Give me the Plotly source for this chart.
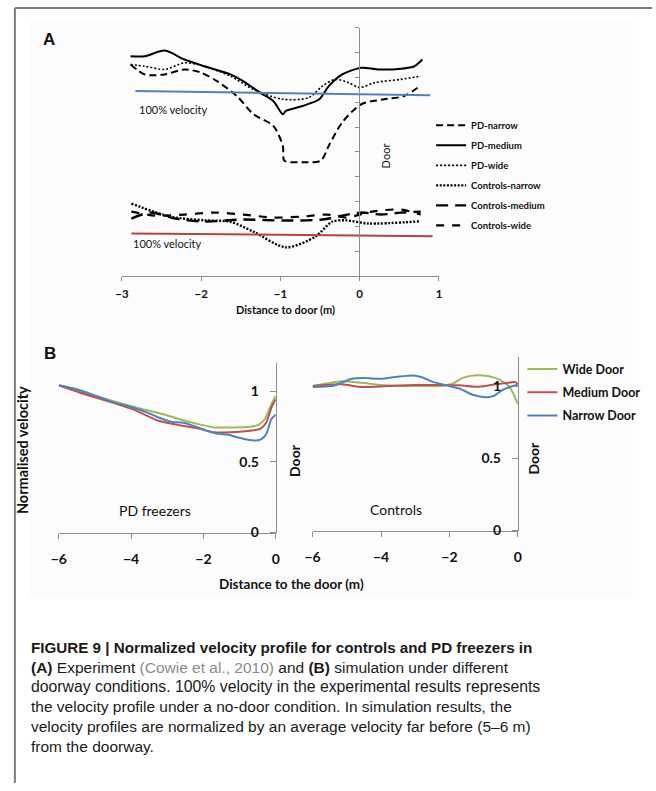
import plotly.graph_objects as go

W, H = 656, 791

# ---------------- Panel A data (experiment) ----------------
pd_narrow_x = [-2.89, -2.71, -2.46, -2.21, -2.00, -1.80, -1.55, -1.34, -1.09, -0.97, -0.95, -0.72, -0.49, -0.39, -0.22, 0.02, 0.31, 0.56, 0.77]
pd_narrow_y = [8.52, 8.12, 8.12, 8.32, 8.19, 7.85, 7.25, 6.52, 6.05, 5.25, 4.65, 4.59, 4.65, 5.25, 6.19, 6.92, 7.12, 7.25, 7.68]

pd_medium_x = [-2.89, -2.71, -2.46, -2.21, -1.96, -1.63, -1.47, -1.26, -1.09, -0.97, -0.93, -0.72, -0.51, -0.39, -0.22, 0.02, 0.23, 0.52, 0.69, 0.79]
pd_medium_y = [8.85, 8.85, 9.08, 8.72, 8.45, 8.12, 7.85, 7.39, 7.05, 6.52, 6.65, 6.85, 7.12, 7.65, 8.12, 8.39, 8.32, 8.35, 8.45, 8.72]

pd_wide_x = [-2.89, -2.71, -2.46, -2.21, -1.96, -1.63, -1.34, -0.97, -0.64, -0.47, -0.31, -0.14, 0.00, 0.19, 0.52, 0.77]
pd_wide_y = [8.52, 8.45, 8.32, 8.59, 8.45, 8.05, 7.52, 7.12, 7.19, 7.65, 7.92, 7.79, 7.59, 7.79, 7.92, 8.05]

ctrl_narrow_x = [-2.88, -2.38, -1.96, -1.63, -1.34, -0.93, -0.56, -0.35, -0.18, 0.11, 0.77]
ctrl_narrow_y = [2.92, 2.39, 2.25, 2.19, 1.79, 1.16, 1.59, 2.19, 2.25, 2.12, 2.21]

ctrl_medium_x = [-2.88, -2.64, -2.33, -1.96, -1.47, -0.97, -0.47, -0.22, 0.02, 0.27, 0.52, 0.77]
ctrl_medium_y = [2.32, 2.56, 2.32, 2.20, 2.28, 2.24, 2.28, 2.44, 2.56, 2.48, 2.56, 2.60]

ctrl_wide_x = [-2.88, -2.58, -2.21, -1.84, -1.47, -1.09, -0.72, -0.41, -0.16, 0.15, 0.52, 0.77]
ctrl_wide_y = [2.60, 2.44, 2.48, 2.56, 2.48, 2.36, 2.40, 2.48, 2.36, 2.60, 2.68, 2.48]

ref_pd_x = [-2.83, 0.89]
ref_pd_y = [7.45, 7.28]
ref_ctrl_x = [-2.88, 0.92]
ref_ctrl_y = [1.72, 1.61]

# ---------------- Panel B data (simulation) ----------------
pdf_wide_x = [-6.0, -5.41, -4.51, -3.96, -3.60, -3.24, -2.88, -2.52, -2.16, -1.70, -1.25, -0.71, -0.48, -0.30, -0.12, 0.0]
pdf_wide_y = [1.04, 0.993, 0.930, 0.890, 0.867, 0.844, 0.818, 0.790, 0.767, 0.743, 0.743, 0.748, 0.760, 0.802, 0.907, 0.965]

pdf_medium_x = [-6.0, -5.41, -4.51, -3.96, -3.24, -2.70, -2.16, -1.70, -1.25, -0.71, -0.43, -0.26, -0.12, 0.0]
pdf_medium_y = [1.04, 0.988, 0.918, 0.872, 0.790, 0.760, 0.736, 0.708, 0.708, 0.720, 0.732, 0.778, 0.883, 0.942]

pdf_narrow_x = [-6.0, -5.50, -4.96, -4.51, -3.96, -3.60, -3.24, -2.88, -2.52, -2.16, -1.70, -1.34, -1.07, -0.80, -0.53, -0.39, -0.26, -0.12, 0.0]
pdf_narrow_y = [1.04, 1.012, 0.965, 0.923, 0.883, 0.853, 0.813, 0.783, 0.774, 0.743, 0.704, 0.692, 0.673, 0.657, 0.650, 0.662, 0.697, 0.802, 0.832]

ctl_wide_x = [-6.0, -5.15, -4.57, -4.00, -3.33, -2.66, -2.28, -1.89, -1.61, -1.22, -0.84, -0.55, -0.27, -0.12, 0.0]
ctl_wide_y = [1.0, 1.034, 1.023, 1.007, 1.0, 1.0, 1.0, 1.018, 1.057, 1.075, 1.068, 1.046, 1.0, 0.943, 0.875]

ctl_medium_x = [-6.0, -5.15, -4.57, -3.81, -3.04, -2.28, -1.70, -1.13, -0.65, -0.27, -0.07, 0.0]
ctl_medium_y = [1.0, 1.012, 0.993, 1.0, 1.007, 1.007, 1.005, 0.995, 1.012, 1.023, 1.027, 1.012]

ctl_narrow_x = [-6.0, -5.43, -5.15, -4.86, -4.48, -4.00, -3.52, -3.04, -2.76, -2.47, -2.08, -1.70, -1.32, -0.94, -0.70, -0.46, -0.22, 0.0]
ctl_narrow_y = [0.993, 1.0, 1.023, 1.05, 1.055, 1.05, 1.064, 1.073, 1.057, 1.027, 1.005, 0.982, 0.940, 0.923, 0.932, 0.971, 0.995, 1.009]

legend_a_names = ["PD-narrow", "PD-medium", "PD-wide", "Controls-narrow", "Controls-medium", "Controls-wide"]
legend_b_names = ["Wide Door", "Medium Door", "Narrow Door"]
ax_a_ticks = [-3, -2, -1, 0, 1]
ax_b_ticks = [-6, -4, -2, 0]
ax_b_yticks = [0, 0.5, 1]

GREEN, RED, BLUE = "#9BBB59", "#C0504D", "#4F81BD"
FONT = "Lato, 'Open Sans', sans-serif"
CAP_FONT = "'Liberation Sans', Arial, sans-serif"


def X(px):
    return px / W


def Y(py):
    return 1 - py / H


fig = go.Figure()

# Panel A traces
a_styles = [
    (pd_narrow_x, pd_narrow_y, 2, "7px,4px"),
    (pd_medium_x, pd_medium_y, 2, "solid"),
    (pd_wide_x, pd_wide_y, 1.6, "2px,2px"),
    (ctrl_narrow_x, ctrl_narrow_y, 2.4, "2px,1.6px"),
    (ctrl_medium_x, ctrl_medium_y, 2.4, "12px,7px"),
    (ctrl_wide_x, ctrl_wide_y, 2.2, "8px,8px"),
]
for name, (xs, ys, w, d) in zip(legend_a_names, a_styles):
    fig.add_trace(go.Scatter(x=xs, y=ys, name=name, mode="lines", line=dict(color="black", width=w, dash=d, shape="spline", smoothing=0.8),
                             xaxis="x", yaxis="y", legend="legend", legendgroup=name))

fig.add_trace(go.Scatter(x=ref_pd_x, y=ref_pd_y, mode="lines", line=dict(color=BLUE, width=2), showlegend=False, xaxis="x", yaxis="y"))
fig.add_trace(go.Scatter(x=ref_ctrl_x, y=ref_ctrl_y, mode="lines", line=dict(color="#B8423F", width=2), showlegend=False, xaxis="x", yaxis="y"))

# Panel B traces
b_left = [(pdf_wide_x, pdf_wide_y, GREEN), (pdf_medium_x, pdf_medium_y, RED), (pdf_narrow_x, pdf_narrow_y, BLUE)]
b_right = [(ctl_wide_x, ctl_wide_y, GREEN), (ctl_medium_x, ctl_medium_y, RED), (ctl_narrow_x, ctl_narrow_y, BLUE)]
for name, (xs, ys, c) in zip(legend_b_names, b_left):
    fig.add_trace(go.Scatter(x=xs, y=ys, mode="lines", line=dict(color=c, width=2, shape="spline", smoothing=0.6),
                             showlegend=False, xaxis="x2", yaxis="y2"))
for name, (xs, ys, c) in zip(legend_b_names, b_right):
    fig.add_trace(go.Scatter(x=xs, y=ys, name=name, mode="lines", line=dict(color=c, width=2, shape="spline", smoothing=0.6),
                             xaxis="x3", yaxis="y3", legend="legend2", legendgroup=name))

AXC = "#8C8C8C"
tickfont_a = dict(family=FONT, size=11.5, color="#111", weight="bold")
tickfont_b = dict(family=FONT, size=14, color="#111", weight="bold")

fig.update_layout(
    width=W, height=H, autosize=False,
    margin=dict(l=0, r=0, t=0, b=0),
    paper_bgcolor="white", plot_bgcolor="rgba(0,0,0,0)",
    font=dict(family=FONT, color="#111"),
    xaxis=dict(domain=[X(116), X(439)], range=[-3, 1], tickvals=ax_a_ticks, anchor="y",
               showline=True, linecolor=AXC, linewidth=1, ticks="outside", ticklen=4, tickcolor=AXC,
               ticklabelstandoff=3,
               showgrid=False, zeroline=False, tickfont=tickfont_a),
    yaxis=dict(domain=[Y(279), Y(28)], range=[0, 10], dtick=1, anchor="free", position=X(358),
               showline=True, linecolor=AXC, linewidth=1, ticks="outside", ticklen=4, tickcolor=AXC,
               showticklabels=False, showgrid=False, zeroline=False),
    xaxis2=dict(domain=[X(51.7), X(272.7)], range=[-6, 0], tickvals=ax_b_ticks, anchor="y2",
                showline=True, linecolor=AXC, linewidth=1, ticks="outside", ticklen=5, tickcolor=AXC,
                ticklabelstandoff=9,
                showgrid=False, zeroline=False, tickfont=tickfont_b),
    yaxis2=dict(domain=[Y(538), Y(366.4)], range=[0, 1.2], tickvals=ax_b_yticks, ticktext=["0", "0.5", "1"],
                anchor="free", position=X(272.7), side="left",
                showline=True, linecolor=AXC, linewidth=1, ticks="outside", ticklen=6, tickcolor=AXC,
                ticklabelstandoff=8,
                showgrid=False, zeroline=False, tickfont=tickfont_b),
    xaxis3=dict(domain=[X(310.3), X(519.3)], range=[-6, 0], tickvals=ax_b_ticks, anchor="y3",
                showline=True, linecolor=AXC, linewidth=1, ticks="outside", ticklen=5, tickcolor=AXC,
                ticklabelstandoff=9,
                showgrid=False, zeroline=False, tickfont=tickfont_b),
    yaxis3=dict(domain=[Y(536), Y(360.8)], range=[0, 1.2], tickvals=ax_b_yticks, ticktext=["0", "0.5", "1"],
                anchor="free", position=X(519.3), side="left",
                showline=True, linecolor=AXC, linewidth=1, ticks="outside", ticklen=6, tickcolor=AXC,
                ticklabelstandoff=8,
                showgrid=False, zeroline=False, tickfont=tickfont_b),
    legend=dict(x=X(431), y=Y(112), xanchor="left", yanchor="top", bgcolor="rgba(0,0,0,0)",
                font=dict(family=FONT, size=9.5, color="#111", weight="bold"), tracegroupgap=1,
                traceorder="grouped", itemwidth=30),
    legend2=dict(x=X(524), y=Y(358), xanchor="left", yanchor="top", bgcolor="rgba(0,0,0,0)",
                 font=dict(family=FONT, size=12.5, color="#111", weight="bold"), tracegroupgap=4,
                 traceorder="grouped", itemwidth=30),
)

# decorative frame and light chart backdrop
fig.add_shape(type="rect", xref="paper", yref="paper", x0=X(22), x1=X(636), y0=Y(604), y1=Y(22),
              fillcolor="#FCFCFC", line=dict(width=0), layer="below")
fig.add_shape(type="line", xref="paper", yref="paper", x0=X(7), x1=X(7), y0=Y(8), y1=0,
              line=dict(color="#7A7A7A", width=2))
fig.add_shape(type="line", xref="paper", yref="paper", x0=X(7), x1=1, y0=Y(8), y1=Y(8),
              line=dict(color="#7A7A7A", width=2))


def txt(px, py, s, size, bold=False, angle=0, xanchor="center", family=FONT, color="#111"):
    fig.add_annotation(x=X(px), y=Y(py), xref="paper", yref="paper", text=s, showarrow=False,
                       textangle=angle, xanchor=xanchor, yanchor="middle",
                       font=dict(family=family, size=size, color=color, weight="bold" if bold else "normal"))


txt(41.7, 40, "A", 17, bold=True, family="'Liberation Sans', Arial, sans-serif")
txt(43, 357, "B", 17, bold=True, family="'Liberation Sans', Arial, sans-serif")
txt(131, 111, "100% velocity", 11, xanchor="left")
txt(125, 246, "100% velocity", 11, xanchor="left")
txt(384, 157, "Door", 11, angle=-90)
txt(283, 312.5, "Distance to door (m)", 11, bold=True)
txt(15, 455, "Normalised velocity", 14.5, bold=True, angle=-90)
txt(150, 516, "PD freezers", 14)
txt(395, 515, "Controls", 14)
txt(292, 465, "Door", 14, bold=True, angle=-90)
txt(535, 463, "Door", 14, bold=True, angle=-90)
txt(289, 590, "Distance to the door (m)", 13.5, bold=True)

caption = [
    "<b>FIGURE 9 | Normalized velocity profile for controls and PD freezers in</b>",
    "<b>(A)</b> Experiment <span style='color:#8A8A8A'>(Cowie et al., 2010)</span> and <b>(B)</b> simulation under different",
    "doorway conditions. 100% velocity in the experimental results represents",
    "the velocity profile under a no-door condition. In simulation results, the",
    "velocity profiles are normalized by an average velocity far before (5–6 m)",
    "from the doorway.",
]
sizes = [15.2, 15.5, 15.8, 15.5, 15.5, 15.5]
for i, line in enumerate(caption):
    txt(21, 654 + 20 * i, line, sizes[i], xanchor="left", family=CAP_FONT, color="#1a1a1a")

fig.write_html("out.html")
